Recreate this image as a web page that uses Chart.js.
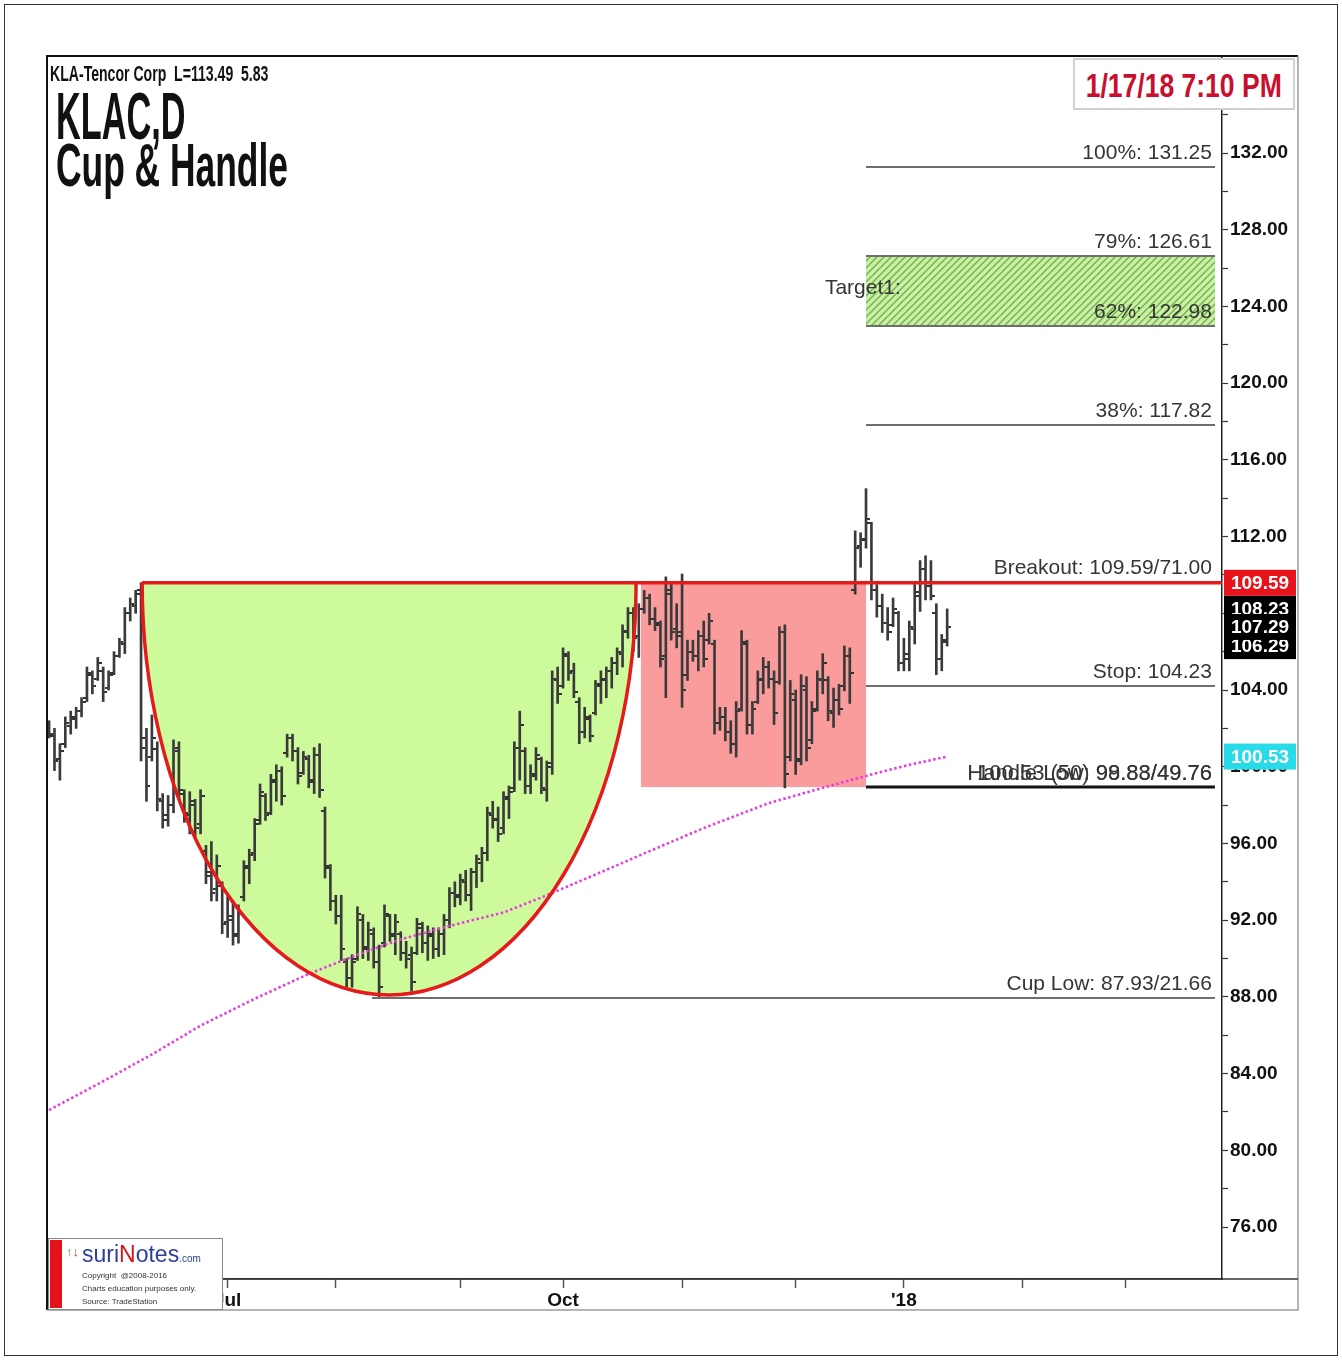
<!DOCTYPE html>
<html>
<head>
<meta charset="utf-8">
<script src="https://cdn.jsdelivr.net/npm/chart.js@4.4.1/dist/chart.umd.min.js"></script>
<style>
  html,body{margin:0;padding:0;background:#fff;}
  #wrap{position:relative;width:1342px;height:1360px;overflow:hidden;background:#fff;}
  canvas{position:absolute;left:0;top:0;}
  .ov{position:absolute;white-space:pre;font-family:"Liberation Sans",Arial,sans-serif;}
</style>
</head>
<body>
<div id="wrap">
<canvas id="c" width="1342" height="1360"></canvas>
<div class="ov" style="left:4px;top:4px;width:1332px;height:1350px;border:1px solid #333;"></div>
<div class="ov" style="left:50px;top:63px;font-weight:bold;font-size:22px;line-height:22px;color:#111;transform:scaleX(0.64);transform-origin:0 0;">KLA-Tencor Corp  L=113.49  5.83</div>
<div class="ov" style="left:56px;top:83px;font-weight:bold;font-size:66px;line-height:66px;color:#111;transform:scaleX(0.52);transform-origin:0 0;">KLAC,D</div>
<div class="ov" style="left:56px;top:135px;font-weight:bold;font-size:61px;line-height:61px;color:#111;transform:scaleX(0.58);transform-origin:0 0;">Cup &amp; Handle</div>
<div class="ov" style="left:1073px;top:58px;width:222px;height:52px;box-sizing:border-box;border:2px solid #d2d2d2;background:#fff;">
  <div class="ov" style="left:-60px;top:8px;width:338px;text-align:center;font-weight:bold;font-size:34px;line-height:34px;color:#c8102e;"><span style="display:inline-block;transform:scaleX(0.78);">1/17/18 7:10 PM</span></div>
</div>
<div class="ov" style="left:48px;top:1238px;width:175px;height:72px;box-sizing:border-box;border:1px solid #8a8a8a;background:#fff;">
  <div class="ov" style="left:1px;top:1px;width:12px;height:68px;background:#e3121b;"></div>
  <div class="ov" style="left:17px;top:6px;font-size:13px;line-height:14px;"><span style="color:#3a9a3a">↑</span><span style="color:#d33">↓</span></div>
  <div class="ov" style="left:33px;top:2px;font-size:23px;line-height:26px;color:#2b3f9e;">suri<span style="color:#d8141c">N</span>otes<span style="font-size:10px;">.com</span></div>
  <div class="ov" style="left:33px;top:30px;font-size:8px;line-height:13px;color:#333;">Copyright  @2008-2016<br>Charts education purposes only.<br>Source: TradeStation</div>
</div>
</div>
<script>
// ---------------- data ----------------
const firstBar = -33; // trading-day index of first bar (0 = first trading day of July 2017)
const openP = [
102.2,101.6,100.4,101.2,102.1,102.5,102.9,103.6,104.8,104.6,
105.0,104.1,104.9,105.8,106.4,108.0,108.4,109.2,101.5,100.5,
100.9,98.2,97.5,98.0,100.8,98.6,97.5,98.0,97.0,95.6,
94.5,93.6,93.8,91.9,92.0,91.3,93.2,94.7,95.5,97.2,
98.5,97.6,99.2,99.8,100.7,101.5,100.8,99.7,100.4,99.3,
100.6,97.7,94.7,93.0,92.2,89.8,89.0,90.0,92.0,90.6,
91.3,89.8,90.8,92.2,91.2,91.3,90.3,90.2,90.3,91.6,
90.8,91.2,90.5,91.3,92.0,93.4,93.3,94.0,93.3,94.5,
95.0,95.5,97.5,97.3,96.8,98.3,98.9,101.0,100.8,99.0,
99.5,100.4,98.8,100.2,104.5,104.2,105.8,105.0,103.4,101.8,
102.5,102.8,104.2,104.5,105.0,105.4,105.9,107.0,108.0,106.8,
108.2,108.8,107.7,107.4,105.8,109.0,107.2,107.0,104.8,106.0,
105.8,106.8,106.6,106.4,102.3,102.6,101.8,101.2,103.0,106.4,
102.2,103.4,104.5,105.2,104.6,104.4,107.0,100.5,103.5,100.4,
104.0,101.4,103.0,104.5,104.5,102.8,103.5,104.2,105.8,109.2,
111.5,111.9,112.7,109.2,108.4,107.5,107.4,108.0,105.4,105.6,
107.2,108.9,110.3,109.4,108.0,105.6,106.6];
const highP = [
102.4,102.0,101.2,102.6,102.9,103.1,103.6,105.2,105.0,105.7,
105.2,105.0,106.0,106.7,108.3,108.8,109.2,109.6,102.0,102.7,
101.3,98.6,98.5,101.4,101.3,98.8,98.7,98.3,98.8,95.9,
96.1,95.4,94.0,93.3,93.0,92.8,95.1,95.7,97.3,99.1,
98.6,99.6,100.1,100.0,101.7,101.7,101.0,100.8,100.6,101.0,
101.2,97.9,94.9,93.3,93.3,90.0,90.2,92.7,92.3,91.9,
91.6,90.7,92.8,92.3,92.3,91.4,90.9,90.6,92.1,91.9,
91.7,91.6,91.6,92.3,93.7,94.0,94.4,94.6,94.7,95.4,
95.8,97.9,98.2,97.9,98.7,99.0,101.3,102.9,101.0,100.1,
101.0,100.5,100.3,105.0,105.2,106.2,106.0,105.4,103.6,103.1,
102.7,104.5,105.0,105.2,105.7,106.2,107.4,108.3,108.3,108.5,
109.2,109.0,108.3,107.6,109.9,109.5,108.5,110.05,106.6,106.6,
107.1,107.6,108.0,106.6,103.1,103.1,102.4,103.4,107.1,106.6,
103.4,105.0,105.7,105.5,105.0,107.3,107.4,104.5,104.0,104.8,
104.7,103.4,105.0,105.9,104.7,104.1,104.3,106.3,106.2,112.3,
112.2,114.5,112.75,109.5,109.0,108.3,108.8,108.1,106.7,107.6,
109.5,110.75,111.0,110.75,108.5,106.9,108.23];
const lowP = [
101.5,99.8,99.3,101.0,101.7,102.0,102.6,103.4,103.8,104.5,
103.4,104.0,104.8,105.7,105.9,107.6,108.0,100.3,98.2,100.3,
97.7,96.8,96.9,97.6,98.3,97.1,96.5,96.3,96.5,93.9,
93.0,93.0,91.3,91.1,90.7,90.8,93.0,93.9,95.1,97.0,
97.2,97.5,98.2,98.0,100.5,100.3,99.1,99.6,98.9,98.6,
98.4,94.2,92.5,91.8,89.9,88.5,88.5,89.9,90.0,89.9,
89.5,87.93,90.6,90.9,90.2,89.9,89.5,88.3,90.2,90.3,
89.9,90.0,90.1,90.2,91.6,92.7,92.8,93.0,92.5,93.7,
94.0,95.1,96.8,96.1,96.5,97.3,98.7,99.3,98.6,98.6,
99.3,98.6,98.2,99.6,103.3,104.1,104.5,103.6,101.2,101.5,
101.3,102.7,103.3,103.6,104.1,104.8,105.2,106.7,106.0,105.7,
108.0,107.4,107.1,105.2,103.6,106.6,106.2,103.1,104.5,105.5,
105.0,105.2,106.4,101.7,101.9,101.35,100.7,100.5,102.9,101.7,
101.7,103.3,103.8,104.1,102.2,104.3,98.9,100.3,99.6,100.1,
100.3,101.2,102.9,103.8,102.4,102.05,102.7,103.96,103.3,109.0,
110.4,111.4,108.7,107.8,107.0,106.6,107.3,105.0,105.0,105.0,
106.4,108.1,108.7,108.7,104.8,105.0,106.29];
const closeP = [
101.7,100.3,100.8,102.3,102.6,102.9,103.4,104.9,104.2,105.4,
103.9,104.8,105.8,106.5,108.0,108.5,109.0,101.0,99.0,101.5,
98.3,97.2,98.0,101.0,98.8,97.6,98.2,96.8,98.5,94.3,
93.4,94.8,91.8,92.2,91.2,92.3,94.8,95.4,97.0,98.7,
97.5,99.3,99.8,98.5,101.5,100.8,99.5,100.5,99.2,100.6,
98.8,94.8,93.0,92.2,90.5,89.0,89.8,92.3,90.5,91.5,
89.8,88.5,92.3,91.3,91.9,90.3,90.0,88.8,91.8,90.8,
91.3,90.5,91.3,92.0,93.4,93.2,94.1,93.3,94.5,95.2,
95.5,97.6,97.2,96.5,98.4,98.7,101.0,102.2,99.0,99.6,
100.6,98.9,100.0,104.6,103.8,105.9,104.9,103.9,101.8,102.6,
101.6,104.3,104.6,105.0,105.4,106.0,107.1,108.0,106.7,108.2,
108.8,107.7,107.5,105.6,109.2,107.0,106.8,104.0,106.0,105.8,
106.8,105.6,107.6,102.3,102.6,101.8,101.2,102.9,106.5,102.2,
103.0,104.6,105.2,104.6,102.8,107.0,99.6,103.8,100.3,104.2,
101.0,102.9,104.6,105.4,102.9,103.5,103.0,105.8,104.9,111.4,
111.8,112.9,109.2,108.4,107.5,107.0,108.2,105.4,105.9,107.3,
109.1,110.3,109.4,108.9,105.6,106.5,107.29];
// 50-day moving average, read at several bars
const smaIdx = [-33,-23,-14,-5,5,15,24,32,41,51,59,69,78,88,100,110,119,126,133];
const smaVal = [82.1,83.6,85.0,86.5,87.9,89.2,90.2,91.0,91.7,92.4,93.3,94.5,95.6,96.8,98.1,98.9,99.6,100.1,100.53];
// x axis (trading-day positions of month starts)
const monthPos = [0,20,43,62,84,105,125,147,166];
const monthLabels = ['Jul','','','Oct','','','\'18','',''];
// y axis ticks
const yTickVals = [76,78,80,82,84,86,88,90,92,94,96,98,100,102,104,106,108,110,112,114,116,118,120,122,124,126,128,130,132,134];
// pattern levels
const breakoutLevel = 109.59, cupLowLevel = 87.93, cupBottom = 88.1, handleLow = 98.94;
const cupStartIdx = -15.8, cupEndIdx = 75.5, handleStartIdx = 76.4, handleEndIdx = 118, projEndIdx = 182.5, cupLowLineStart = 26.7;
const fibLabels = ['100%: 131.25','79%: 126.61','62%: 122.98','38%: 117.82','Stop: 104.23'];
const fibValues = [131.25,126.61,122.98,117.82,104.23];
const breakoutLabel = 'Breakout: 109.59/71.00';
const cupLowLabel = 'Cup Low: 87.93/21.66';
const handleLabelA = 'Handle Low: 98.88/49.76';
const handleLabelB = '100.53 (50) 99.83/49.76';
const targetLabel = 'Target1:', targetLabelIdx = 110.4;
const targetZone = [122.98, 126.61];
const priceTags = [
  {v:109.59, bg:'#e8141b', t:'109.59'},
  {v:108.23, bg:'#000', t:'108.23'},
  {v:106.29, bg:'#000', t:'106.29'},
  {v:107.29, bg:'#000', t:'107.29'},
  {v:100.53, bg:'#29dbe8', t:'100.53'}
];

// ---------------- build ----------------
const barData = [], openPts = [], closePts = [];
for (let k = 0; k < openP.length; k++) {
  const i = firstBar + k;
  barData.push({x:i, y:[lowP[k], highP[k]]});
  openPts.push({x:i, y:openP[k]});
  closePts.push({x:i, y:closeP[k]});
}
const smaData = smaIdx.map((x,k)=>({x, y:smaVal[k]}));

function tickImg(side){
  const c = document.createElement('canvas'); c.width = 8; c.height = 2;
  const g = c.getContext('2d'); g.fillStyle = '#333';
  if (side === 'l') g.fillRect(0,0,3,2); else g.fillRect(5,0,3,2);
  return c;
}
const openImg = tickImg('l'), closeImg = tickImg('r');

function hatch(){
  const c = document.createElement('canvas'); c.width = 7; c.height = 7;
  const g = c.getContext('2d');
  g.fillStyle = '#cdeea6'; g.fillRect(0,0,7,7);
  g.strokeStyle = '#6db54a'; g.lineWidth = 1.4;
  g.beginPath(); g.moveTo(-1,8); g.lineTo(8,-1); g.stroke();
  g.beginPath(); g.moveTo(-1,1); g.lineTo(1,-1); g.stroke();
  g.beginPath(); g.moveTo(6,8); g.lineTo(8,6); g.stroke();
  return c;
}

const FONT = '"Liberation Sans", Arial, sans-serif';
const annot = {
  id:'annot',
  beforeDatasetsDraw(chart){
    const {ctx, scales:{x,y}, chartArea:a} = chart;
    ctx.save();
    ctx.beginPath(); ctx.rect(a.left, a.top, a.right-a.left, a.bottom-a.top); ctx.clip();
    const x0 = x.getPixelForValue(cupStartIdx), x1 = x.getPixelForValue(cupEndIdx);
    const yT = y.getPixelForValue(breakoutLevel), yB = y.getPixelForValue(cupBottom);
    ctx.beginPath(); ctx.ellipse((x0+x1)/2, yT, (x1-x0)/2, yB-yT, 0, 0, Math.PI); ctx.closePath();
    ctx.fillStyle = '#cdfb9c'; ctx.fill();
    const hx0 = x.getPixelForValue(handleStartIdx), hx1 = x.getPixelForValue(handleEndIdx);
    const hyB = y.getPixelForValue(handleLow);
    ctx.fillStyle = '#fb9c9c';
    ctx.fillRect(hx0, yT, hx1-hx0, hyB-yT);
    const px1 = x.getPixelForValue(projEndIdx);
    const tz0 = y.getPixelForValue(targetZone[1]), tz1 = y.getPixelForValue(targetZone[0]);
    ctx.fillStyle = ctx.createPattern(hatch(), 'repeat');
    ctx.fillRect(hx1, tz0, px1-hx1, tz1-tz0);
    ctx.restore();
  },
  afterDatasetsDraw(chart){
    const {ctx, scales:{x,y}, chartArea:a} = chart;
    ctx.save();
    const hx1 = x.getPixelForValue(handleEndIdx), px1 = x.getPixelForValue(projEndIdx);
    ctx.strokeStyle = '#6e6e6e'; ctx.lineWidth = 2;
    fibValues.forEach(v=>{ const yy = Math.round(y.getPixelForValue(v)); ctx.beginPath(); ctx.moveTo(hx1, yy); ctx.lineTo(px1, yy); ctx.stroke(); });
    const ycl = Math.round(y.getPixelForValue(cupLowLevel));
    ctx.beginPath(); ctx.moveTo(x.getPixelForValue(cupLowLineStart), ycl); ctx.lineTo(px1, ycl); ctx.stroke();
    const yhl = y.getPixelForValue(handleLow);
    ctx.strokeStyle = '#111'; ctx.lineWidth = 3;
    ctx.beginPath(); ctx.moveTo(hx1, yhl); ctx.lineTo(px1, yhl); ctx.stroke();
    const x0 = x.getPixelForValue(cupStartIdx), x1 = x.getPixelForValue(cupEndIdx);
    const yT = y.getPixelForValue(breakoutLevel), yB = y.getPixelForValue(cupBottom);
    ctx.strokeStyle = '#e41a1c'; ctx.lineWidth = 3.5;
    ctx.beginPath(); ctx.ellipse((x0+x1)/2, yT, (x1-x0)/2, yB-yT, 0, 0, Math.PI); ctx.stroke();
    ctx.lineWidth = 3.5;
    ctx.beginPath(); ctx.moveTo(x0, yT); ctx.lineTo(a.right, yT); ctx.stroke();
    ctx.fillStyle = '#353535'; ctx.font = '21px ' + FONT; ctx.textAlign = 'right'; ctx.textBaseline = 'alphabetic';
    const tx = px1 - 3;
    fibLabels.forEach((t,k)=>{ ctx.fillText(t, tx, y.getPixelForValue(fibValues[k]) - 8); });
    ctx.fillText(breakoutLabel, tx, yT - 9);
    ctx.fillText(cupLowLabel, tx, ycl - 8);
    ctx.font = '22px ' + FONT;
    ctx.fillText(handleLabelA, tx, yhl - 7);
    ctx.fillText(handleLabelB, tx, yhl - 7);
    ctx.font = '21px ' + FONT;
    ctx.textAlign = 'left';
    ctx.fillText(targetLabel, x.getPixelForValue(targetLabelIdx), (y.getPixelForValue(targetZone[0]) + y.getPixelForValue(targetZone[1]))/2 + 3);
    ctx.restore();
  },
  afterDraw(chart){
    const {ctx, scales:{x,y}, chartArea:a} = chart;
    ctx.save();
    ctx.font = 'bold 19px ' + FONT; ctx.textAlign = 'center'; ctx.textBaseline = 'middle';
    priceTags.forEach(p=>{
      const yy = y.getPixelForValue(p.v);
      ctx.fillStyle = p.bg; ctx.fillRect(a.right + 2, yy - 13, 72, 26);
      ctx.fillStyle = '#fff'; ctx.fillText(p.t, a.right + 38, yy + 1);
    });
    ctx.strokeStyle = '#111'; ctx.lineWidth = 2;
    ctx.beginPath(); ctx.moveTo(47, 1310); ctx.lineTo(47, 56); ctx.lineTo(1298, 56); ctx.stroke();
    ctx.strokeStyle = '#9a9a9a'; ctx.lineWidth = 1.5;
    ctx.beginPath(); ctx.moveTo(1298, 56); ctx.lineTo(1298, 1310); ctx.lineTo(47, 1310); ctx.stroke();
    ctx.strokeStyle = '#333'; ctx.lineWidth = 1.5;
    ctx.beginPath(); ctx.moveTo(a.left, a.bottom); ctx.lineTo(1298, a.bottom); ctx.stroke();
    ctx.restore();
  }
};

new Chart(document.getElementById('c'), {
  type:'bar',
  data:{datasets:[
    {type:'line', data:smaData, borderColor:'#e640da', borderWidth:2.6, borderDash:[2.5,2.5], pointRadius:0, fill:false, tension:0, order:0},
    {type:'line', data:openPts, showLine:false, pointStyle:openImg, pointRadius:3, order:1},
    {type:'line', data:closePts, showLine:false, pointStyle:closeImg, pointRadius:3, order:1},
    {type:'bar', data:barData, backgroundColor:'#3a3a3a', borderWidth:0, barThickness:2, grouped:false, order:2}
  ]},
  options:{
    responsive:false, animation:false, events:[], devicePixelRatio:1,
    layout:{padding:{left:48, top:56, right:44, bottom:50}},
    plugins:{legend:{display:false}, tooltip:{enabled:false}, title:{display:false}},
    scales:{
      x:{type:'linear', min:-33.2, max:183.8, offset:false,
         afterBuildTicks(s){ s.ticks = monthPos.map(v=>({value:v})); },
         afterFit(s){ s.height = 31; },
         ticks:{autoSkip:false, maxRotation:0, padding:1, color:'#111', font:{family:FONT, size:19, weight:'bold'},
                callback:(v,i)=>monthLabels[i]},
         grid:{drawOnChartArea:false, offset:false, tickLength:9, color:'#555', tickWidth:1.5},
         border:{display:true, color:'#333', width:1.5}},
      y:{position:'right', min:73.29, max:137.06,
         afterBuildTicks(s){ s.ticks = yTickVals.map(v=>({value:v})); },
         afterFit(s){ s.width = 76; },
         ticks:{autoSkip:false, padding:2, color:'#111', font:{family:FONT, size:19, weight:'bold'},
                callback:(v)=> (v % 4 === 0 && v <= 132) ? v.toFixed(2) : ''},
         grid:{drawOnChartArea:false, tickLength:6, color:'#333', tickWidth:1.2},
         border:{display:true, color:'#222', width:1.5}}
    }
  },
  plugins:[annot]
});
</script>
</body>
</html>
